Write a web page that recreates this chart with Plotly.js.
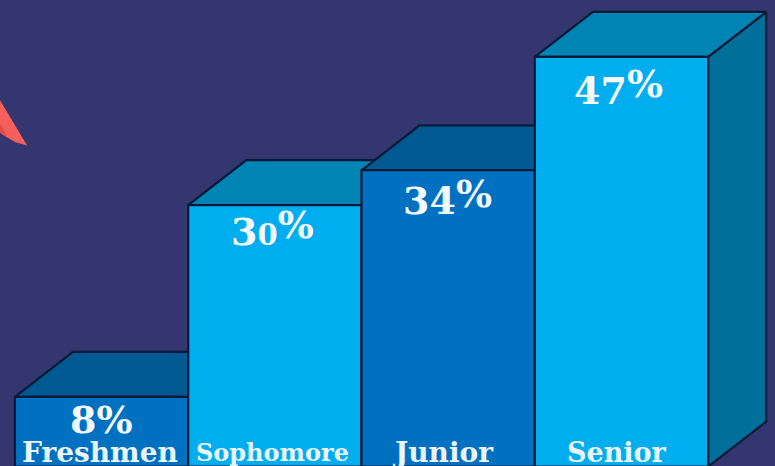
<!DOCTYPE html>
<html>
<head>
<meta charset="utf-8">
<script src="https://cdn.plot.ly/plotly-3.0.1.min.js"></script>
<style>html,body{margin:0;padding:0;background:#33366f;overflow:hidden}#chart{width:775px;height:466px}</style>
</head>
<body>
<div id="chart"></div>
<script>
// Share of students by class year, drawn as extruded columns
const categories = ['Freshmen', 'Sophomore', 'Junior', 'Senior'];
const values = [8, 30, 34, 47];
const valueLabels = ['8%', '30%', '34%', '47%'];

// Styling per column
const frontColors = ['#0071c1', '#00aeef', '#0071c1', '#00aeef'];
const topColors = ['#005a92', '#0084b3', '#005a92', '#0084b3'];
const sideColors = ['#005a92', '#006f99', '#005a92', '#006f99'];
const valueDrop = [23, 23, 27, 30];
const valueNudge = [0, -2, -1, -3];
const categorySizes = [28, 24, 28, 27];
const categoryNudge = [-2, -2, -5, -4];

const edge = '#0a1a38';
const serif = '"DejaVu Serif", serif';
const valueSize = 38;
const raiseBase = 17;   // sets how far the raised percent sign travels
const depthX = 0.335;   // extrusion along the category axis
const depthY = 5.16;    // extrusion along the value axis
const half = 0.5;

const sized = (text, px) => '<span style="font-size:' + px + 'px">' + text + '</span>';

// Raises the percent sign and shrinks the zero, giving old-style figures
function figureMarkup(label) {
  const digits = label.slice(0, -1);
  if (digits.length < 2) return '<b>' + sized(label, valueSize) + '</b>';
  const body = digits.split('').map(d => sized(d, d === '0' ? 29 : valueSize)).join('');
  return '<b>' + body + '<sup>' + sized('%', valueSize) + '</sup></b>';
}

const traces = [];

// Top and side faces sit on the base axes, behind the front faces
categories.forEach((name, i) => {
  const v = values[i];
  const l = i - half, r = i + half;
  traces.push({
    type: 'scatter', mode: 'lines', fill: 'toself', hoverinfo: 'skip',
    x: [r, r + depthX, r + depthX, r, r],
    y: [0, depthY, v + depthY, v, 0],
    fillcolor: sideColors[i], line: {color: edge, width: 2.2}, xaxis: 'x', yaxis: 'y'
  });
  traces.push({
    type: 'scatter', mode: 'lines', fill: 'toself', hoverinfo: 'skip',
    x: [l, l + depthX, r + depthX, r, l],
    y: [v, v + depthY, v + depthY, v, v],
    fillcolor: topColors[i], line: {color: edge, width: 2.2}, xaxis: 'x', yaxis: 'y'
  });
});

// Front faces on an overlaid pair of axes so they cover the faces behind
traces.push({
  type: 'bar', x: categories.map((c, i) => i), y: values, width: 1,
  marker: {color: frontColors, line: {color: edge, width: 2.2}},
  xaxis: 'x2', yaxis: 'y2', hoverinfo: 'skip'
});

const xRange = [-0.586, 3.886];
const yRange = [0.08, 53.53];
const hidden = {showgrid: false, zeroline: false, showticklabels: false, ticks: '', showline: false, fixedrange: true};

const annotations = [];
categories.forEach((name, i) => {
  annotations.push({
    x: i, y: values[i], xref: 'x', yref: 'y', yanchor: 'middle', showarrow: false,
    yshift: -valueDrop[i], xshift: valueNudge[i], text: figureMarkup(valueLabels[i]),
    font: {family: serif, size: raiseBase, color: '#f4f9fd'}
  });
  annotations.push({
    x: i, y: yRange[0], xref: 'x', yref: 'y', yanchor: 'middle', showarrow: false,
    yshift: 14, xshift: categoryNudge[i], text: '<b>' + name + '</b>',
    font: {family: serif, size: categorySizes[i], color: '#eaf5fc'}
  });
});

const layout = {
  width: 775, height: 466,
  margin: {l: 0, r: 0, t: 0, b: 0},
  paper_bgcolor: '#33366f', plot_bgcolor: '#33366f',
  showlegend: false,
  xaxis: Object.assign({range: xRange, type: 'linear'}, hidden),
  yaxis: Object.assign({range: yRange}, hidden),
  xaxis2: Object.assign({range: xRange, type: 'linear', overlaying: 'x'}, hidden),
  yaxis2: Object.assign({range: yRange, overlaying: 'y'}, hidden),
  shapes: [
    {type: 'path', xref: 'paper', yref: 'paper', layer: 'below',
     path: 'M 0 0.785 L 0.035 0.688 L 0.02 0.695 L 0.006 0.708 L 0 0.715 Z',
     fillcolor: '#f5605c', line: {width: 0}},
    {type: 'path', xref: 'paper', yref: 'paper', layer: 'below',
     path: 'M 0 0.735 L 0.009 0.708 L 0.006 0.708 L 0 0.715 Z',
     fillcolor: '#e04a4c', line: {width: 0}}
  ],
  annotations: annotations
};

Plotly.newPlot('chart', traces, layout, {displayModeBar: false, staticPlot: true});
</script>
</body>
</html>
